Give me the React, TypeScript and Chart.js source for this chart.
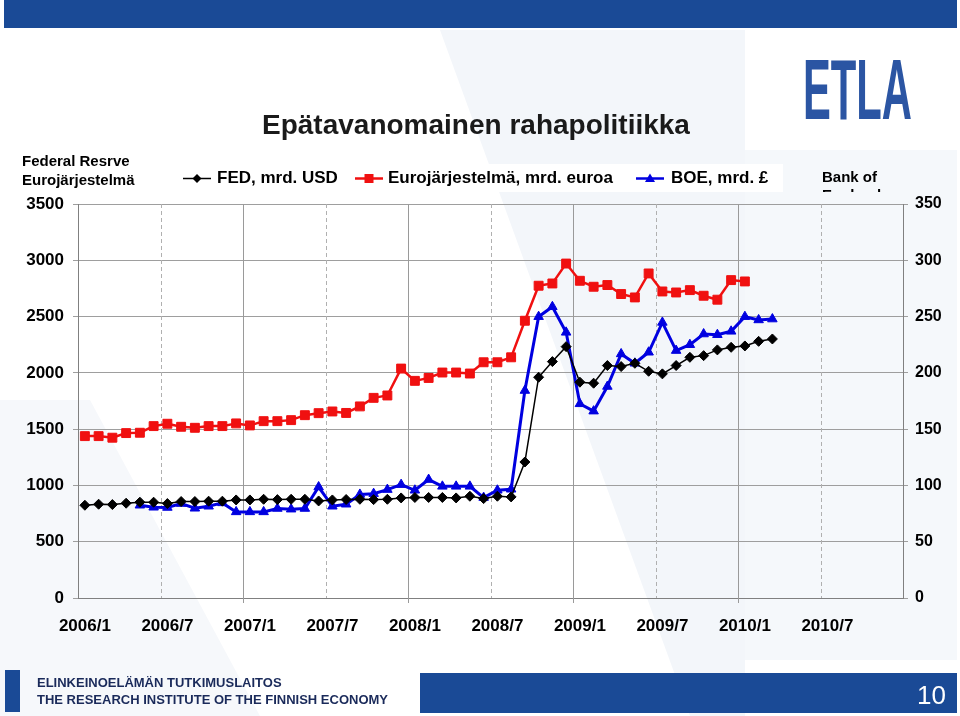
import React, { useEffect, useRef } from 'react';
import { Chart, registerables } from 'chart.js';

Chart.register(...registerables);

const MONTHS: string[] = [
  '2006/1', '2006/2', '2006/3', '2006/4', '2006/5', '2006/6', '2006/7', '2006/8', '2006/9', '2006/10', '2006/11', '2006/12',
  '2007/1', '2007/2', '2007/3', '2007/4', '2007/5', '2007/6', '2007/7', '2007/8', '2007/9', '2007/10', '2007/11', '2007/12',
  '2008/1', '2008/2', '2008/3', '2008/4', '2008/5', '2008/6', '2008/7', '2008/8', '2008/9', '2008/10', '2008/11', '2008/12',
  '2009/1', '2009/2', '2009/3', '2009/4', '2009/5', '2009/6', '2009/7', '2009/8', '2009/9', '2009/10', '2009/11', '2009/12',
  '2010/1', '2010/2', '2010/3', '2010/4', '2010/5', '2010/6', '2010/7', '2010/8', '2010/9', '2010/10', '2010/11', '2010/12',
];

// Federal Reserve balance sheet, bn USD (left axis)
const FED_USD: (number | null)[] = [
  824, 833, 830, 842, 851, 851, 839, 857, 857, 860, 860, 871,
  871, 877, 874, 877, 877, 862, 871, 875, 877, 874, 877, 889,
  893, 893, 893, 889, 904, 883, 904, 898, 1208, 1961, 2100, 2233,
  1917, 1908, 2065, 2056, 2085, 2014, 1991, 2065, 2138, 2153, 2204, 2227,
  2239, 2280, 2301,
];

// Eurosystem balance sheet, bn EUR (left axis)
const EUROSYSTEM_EUR: (number | null)[] = [
  1438, 1438, 1424, 1465, 1468, 1527, 1548, 1521, 1512, 1527, 1527, 1551,
  1533, 1571, 1571, 1580, 1624, 1642, 1657, 1644, 1702, 1778, 1799, 2038,
  1929, 1955, 2003, 2003, 1994, 2094, 2094, 2138, 2463, 2774, 2794, 2971,
  2818, 2765, 2780, 2700, 2670, 2883, 2723, 2714, 2735, 2685, 2650, 2824,
  2812,
];

// Bank of England balance sheet, bn GBP (right axis)
const BOE_GBP: (number | null)[] = [
  null, null, null, null, 82.4, 80.6, 80.4, 83.9, 79.7, 81.5, 84.5, 76.5,
  76.5, 76.5, 79.5, 78.9, 79.5, 98.6, 81.5, 83.3, 92, 92.7, 96.3, 100.7,
  95.7, 105.2, 99.2, 99.2, 99.2, 89.2, 95.7, 96.6, 184.3, 249.9, 258.7, 236.0,
  172.5, 166.0, 187.9, 216.8, 208.5, 218.3, 244.8, 219.8, 225.0, 234.5, 233.9, 236.9,
  249.9, 247.0, 247.8,
];

const SERIES_LABELS = ['FED, mrd. USD', 'Eurojärjestelmä, mrd. euroa', 'BOE, mrd. £'];
const SERIES_COLORS = ['#000000', '#f01010', '#0000e0'];
const LEFT_AXIS = { min: 0, max: 3500, step: 500 };
const RIGHT_AXIS = { min: 0, max: 350, step: 50 };

const FONT = '"Liberation Sans", Arial, Helvetica, sans-serif';
const NAVY = '#1a4a96';

const vGridPlugin = {
  id: 'vgrid',
  beforeDatasetsDraw(chart: any) {
    const { ctx, chartArea, scales } = chart;
    const x = scales.x;
    const step = x.getPixelForValue(1) - x.getPixelForValue(0);
    ctx.save();
    for (let k = 6; k < MONTHS.length; k += 6) {
      const px = Math.round(x.getPixelForValue(k) - step / 2) + 0.5;
      ctx.beginPath();
      ctx.lineWidth = 1;
      if (k % 12 === 0) {
        ctx.setLineDash([]);
        ctx.strokeStyle = '#9a9a9a';
        ctx.moveTo(px, chartArea.top);
        ctx.lineTo(px, chartArea.bottom + 5);
      } else {
        ctx.setLineDash([4, 3]);
        ctx.strokeStyle = '#b0b0b0';
        ctx.moveTo(px, chartArea.top);
        ctx.lineTo(px, chartArea.bottom);
      }
      ctx.stroke();
    }
    ctx.restore();
  },
};

function LegendMarker({ kind, color }: { kind: string; color: string }) {
  let shape: any = null;
  if (kind === 'diamond') shape = <polygon points="14,3 18.5,7.5 14,12 9.5,7.5" fill={color} />;
  if (kind === 'square') shape = <rect x={9.5} y={3} width={9} height={9} fill={color} />;
  if (kind === 'triangle') shape = <polygon points="14,2.5 19,11 9,11" fill={color} />;
  return (
    <svg width={28} height={15} style={{ display: 'block' }}>
      <line x1={0} y1={7.5} x2={28} y2={7.5} stroke={color} strokeWidth={kind === 'diamond' ? 1.5 : 2.5} />
      {shape}
    </svg>
  );
}

export default function App() {
  const canvasRef = useRef<HTMLCanvasElement | null>(null);

  useEffect(() => {
    document.body.style.margin = '0';
    const canvas = canvasRef.current;
    if (!canvas) return;
    const chart = new Chart(canvas, {
      type: 'line',
      data: {
        labels: MONTHS,
        datasets: [
          {
            label: SERIES_LABELS[0],
            data: FED_USD,
            yAxisID: 'y',
            borderColor: SERIES_COLORS[0],
            backgroundColor: SERIES_COLORS[0],
            borderWidth: 1.5,
            pointStyle: 'rectRot',
            pointRadius: 5,
            pointBorderWidth: 1,
            tension: 0,
            order: 1,
          },
          {
            label: SERIES_LABELS[1],
            data: EUROSYSTEM_EUR,
            yAxisID: 'y',
            borderColor: SERIES_COLORS[1],
            backgroundColor: SERIES_COLORS[1],
            borderWidth: 2.5,
            pointStyle: 'rect',
            pointRadius: 6.3,
            pointBorderWidth: 1,
            tension: 0,
            order: 3,
          },
          {
            label: SERIES_LABELS[2],
            data: BOE_GBP,
            yAxisID: 'y1',
            borderColor: SERIES_COLORS[2],
            backgroundColor: SERIES_COLORS[2],
            borderWidth: 3,
            pointStyle: 'triangle',
            pointRadius: 5.5,
            pointBorderWidth: 1,
            tension: 0,
            order: 2,
          },
        ],
      },
      options: {
        animation: false,
        responsive: false,
        maintainAspectRatio: false,
        layout: { padding: { top: 204, bottom: 78, left: 0, right: 0 } },
        plugins: {
          legend: { display: false },
          tooltip: { enabled: false },
          title: { display: false },
        },
        scales: {
          x: {
            type: 'category',
            offset: true,
            grid: { display: false },
            border: { display: true, color: '#808080', width: 1 },
            ticks: {
              autoSkip: false,
              maxRotation: 0,
              minRotation: 0,
              padding: 10,
              color: '#000',
              font: { family: FONT, size: 17, weight: 'bold' },
              callback: (_v: any, i: number) => (i % 6 === 0 ? MONTHS[i] : ''),
            },
            afterFit: (s: any) => { s.height = 40; },
          },
          y: {
            position: 'left',
            min: LEFT_AXIS.min,
            max: LEFT_AXIS.max,
            grid: { color: '#9e9e9e', lineWidth: 1, tickLength: 5, tickColor: '#9e9e9e' },
            border: { display: true, color: '#808080', width: 1 },
            ticks: {
              stepSize: LEFT_AXIS.step,
              padding: 9,
              color: '#000',
              font: { family: FONT, size: 17, weight: 'bold' },
              callback: (v: any) => String(v),
            },
            afterFit: (s: any) => { s.width = 78; },
          },
          y1: {
            position: 'right',
            min: RIGHT_AXIS.min,
            max: RIGHT_AXIS.max,
            grid: { drawOnChartArea: false, tickLength: 5, tickColor: '#9e9e9e' },
            border: { display: true, color: '#808080', width: 1 },
            ticks: {
              stepSize: RIGHT_AXIS.step,
              padding: 7,
              color: '#000',
              font: { family: FONT, size: 16, weight: 'bold' },
              callback: (v: any) => String(v),
            },
            afterFit: (s: any) => { s.width = 57; },
          },
        },
      },
      plugins: [vGridPlugin],
    } as any);
    return () => chart.destroy();
  }, []);

  const txt = (extra: any) => ({ position: 'absolute', fontFamily: FONT, whiteSpace: 'nowrap', ...extra });

  return (
    <div style={{ position: 'absolute', left: 0, top: 0, width: 960, height: 716, overflow: 'hidden', background: '#ffffff' }}>
      <svg width={960} height={716} style={{ position: 'absolute', left: 0, top: 0 }}>
        <polygon points="440,30 745,30 745,716 690,716" fill="#f3f6fa" />
        <polygon points="745,150 957,150 957,660 745,660" fill="#f5f8fb" />
        <polygon points="0,400 90,400 260,716 0,716" fill="#f6f8fb" />
        <rect x={4} y={0} width={953} height={28} fill={NAVY} />
        <text x={803} y={119} fontSize={85} fontWeight="bold" fontFamily={FONT} fill="#2b55a3" textLength={109} lengthAdjust="spacingAndGlyphs">ETLA</text>
        <rect x={5} y={670} width={15} height={42} fill={NAVY} />
        <rect x={420} y={673} width={537} height={40} fill={NAVY} />
      </svg>
      <canvas ref={canvasRef} width={960} height={716} style={{ position: 'absolute', left: 0, top: 0, width: 960, height: 716 }} />

      <div style={txt({ left: 262, top: 107, fontSize: 28, fontWeight: 'bold', color: '#1a1a1a', lineHeight: '36px' })}>
        Epätavanomainen rahapolitiikka
      </div>

      <div style={txt({ left: 22, top: 151, fontSize: 15, fontWeight: 'bold', color: '#000', lineHeight: '19px' })}>
        Federal Resrve<br />Eurojärjestelmä
      </div>

      <div style={txt({ left: 822, top: 168, height: 24, overflow: 'hidden', fontSize: 15, fontWeight: 'bold', color: '#000', lineHeight: '18px' })}>
        Bank of<br />England
      </div>

      <div style={{ position: 'absolute', left: 177, top: 164, width: 606, height: 28, background: '#ffffff' }} />
      <div style={{ position: 'absolute', left: 183, top: 171 }}><LegendMarker kind="diamond" color={SERIES_COLORS[0]} /></div>
      <div style={txt({ left: 217, top: 167, fontSize: 17, fontWeight: 'bold', color: '#000', lineHeight: '22px' })}>{SERIES_LABELS[0]}</div>
      <div style={{ position: 'absolute', left: 355, top: 171 }}><LegendMarker kind="square" color={SERIES_COLORS[1]} /></div>
      <div style={txt({ left: 388, top: 167, fontSize: 17, fontWeight: 'bold', color: '#000', lineHeight: '22px' })}>{SERIES_LABELS[1]}</div>
      <div style={{ position: 'absolute', left: 636, top: 171 }}><LegendMarker kind="triangle" color={SERIES_COLORS[2]} /></div>
      <div style={txt({ left: 671, top: 167, fontSize: 17, fontWeight: 'bold', color: '#000', lineHeight: '22px' })}>{SERIES_LABELS[2]}</div>

      <div style={txt({ left: 37, top: 674, fontSize: 13, fontWeight: 'bold', color: '#1a2a5a', lineHeight: '17px' })}>
        ELINKEINOELÄMÄN TUTKIMUSLAITOS<br />THE RESEARCH INSTITUTE OF THE FINNISH ECONOMY
      </div>
      <div style={txt({ left: 917, top: 680, fontSize: 26, color: '#ffffff', lineHeight: '30px' })}>10</div>
    </div>
  );
}
